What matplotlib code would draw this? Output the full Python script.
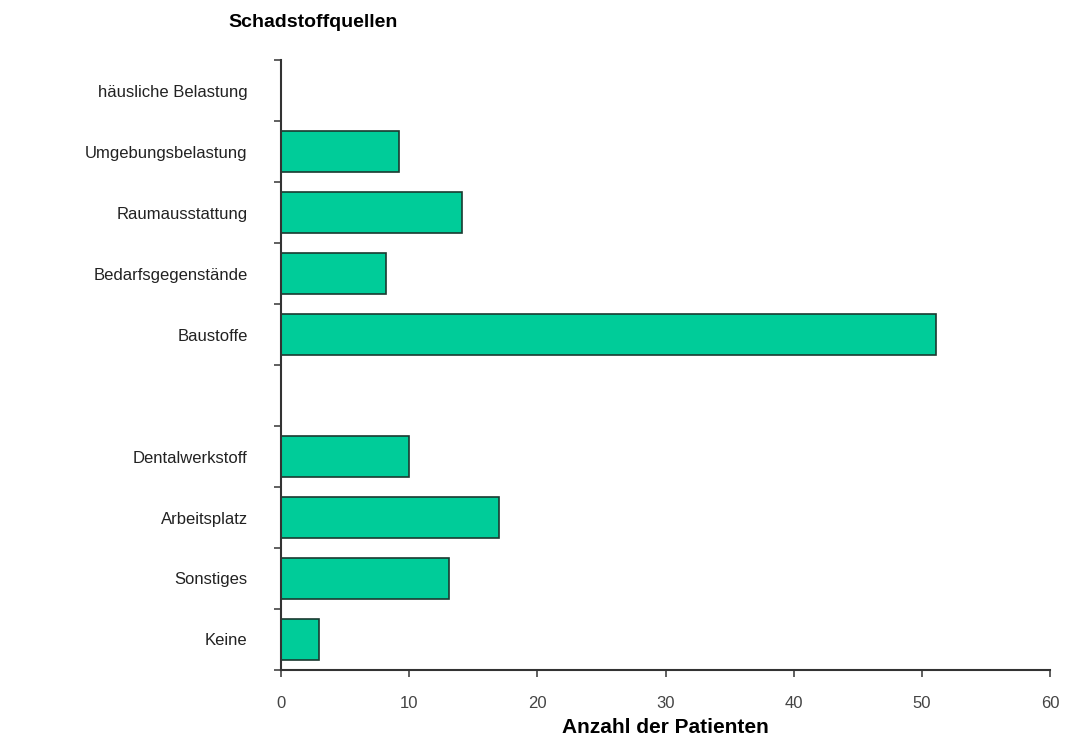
import matplotlib.pyplot as plt
import numpy as np

plt.rcParams['font.family'] = ['Liberation Sans', 'DejaVu Sans']

# top to bottom; "" is the empty slot between the two groups
categories = ["häusliche Belastung", "Umgebungsbelastung", "Raumausstattung",
              "Bedarfsgegenstände", "Baustoffe", "",
              "Dentalwerkstoff", "Arbeitsplatz", "Sonstiges", "Keine"]
values = [0, 9.2, 14.1, 8.2, 51.1, 0, 10, 17, 13.1, 3]
xticks = [0, 10, 20, 30, 40, 50, 60]

fig = plt.figure(figsize=(10.66, 7.40), dpi=100)
ax = fig.add_axes([0.2636, 0.0946, 0.7214, 0.8243])

pos = np.arange(len(categories))
for p, v in zip(pos, values):
    if v > 0:
        ax.barh(p, v, height=0.66, color='#00CC99', edgecolor='#1a3a30', linewidth=1.2)

ax.set_xlim(0, 60)
ax.set_ylim(len(categories) - 0.5, -0.5)
ax.set_xticks(xticks)
ax.set_xticklabels([str(t) for t in xticks], fontsize=12, color='#444444')
ax.set_yticks(pos)
ax.set_yticklabels(categories, fontsize=12, color='#222222')
ax.set_yticks(np.arange(-0.5, len(categories), 1.0), minor=True)
ax.tick_params(axis='y', which='major', length=0, pad=24)
ax.tick_params(axis='y', which='minor', length=5, width=1.2, direction='out', color='#444444')
ax.tick_params(axis='x', length=5, width=1.2, direction='out', pad=14, color='#444444')

ax.spines['top'].set_visible(False)
ax.spines['right'].set_visible(False)
ax.spines['left'].set_linewidth(1.5)
ax.spines['bottom'].set_linewidth(1.5)
ax.spines['left'].set_color('#333333')
ax.spines['bottom'].set_color('#333333')

ax.set_xlabel("Anzahl der Patienten", fontsize=15, fontweight='bold', labelpad=5)
fig.text(0.294, 0.97, "Schadstoffquellen", fontsize=14, fontweight='bold',
         ha='center', va='center')

fig.savefig("out.png", dpi=100)
